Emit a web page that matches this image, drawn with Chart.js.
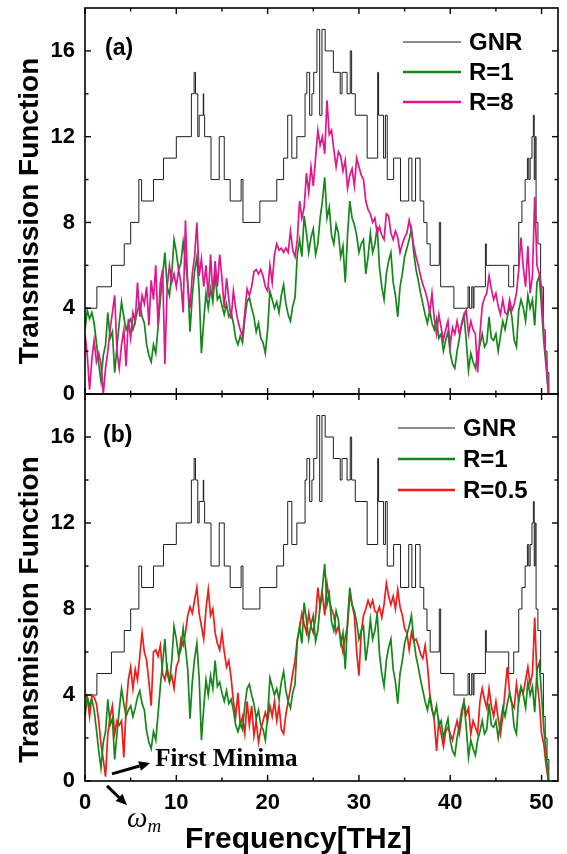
<!DOCTYPE html>
<html><head><meta charset="utf-8">
<script src="https://cdn.jsdelivr.net/npm/chart.js@4.4.1/dist/chart.umd.min.js"></script>
<style>
html,body{margin:0;padding:0;background:#fff;}
#wrap{position:relative;width:567px;height:854px;overflow:hidden;background:#fff;}
canvas{position:absolute;left:0;}
#ca{top:0;width:567px;height:404px;}
#cb{top:386px;width:567px;height:468px;}
</style></head><body>
<div id="wrap"><canvas id="ca" width="567" height="404"></canvas><canvas id="cb" width="567" height="468"></canvas></div>
<script>
// ---- data ----
const frequency = [
0,0.25,0.5,0.75,1,1.25,1.5,1.75,
2,2.25,2.5,2.75,3,3.25,3.5,3.75,
4,4.25,4.5,4.75,5,5.25,5.5,5.75,
6,6.25,6.5,6.75,7,7.25,7.5,7.75,
8,8.25,8.5,8.75,9,9.25,9.5,9.75,
10,10.25,10.5,10.75,11,11.25,11.5,11.75,
12,12.25,12.5,12.75,13,13.25,13.5,13.75,
14,14.25,14.5,14.75,15,15.25,15.5,15.75,
16,16.25,16.5,16.75,17,17.25,17.5,17.75,
18,18.25,18.5,18.75,19,19.25,19.5,19.75,
20,20.25,20.5,20.75,21,21.25,21.5,21.75,
22,22.25,22.5,22.75,23,23.25,23.5,23.75,
24,24.25,24.5,24.75,25,25.25,25.5,25.75,
26,26.25,26.5,26.75,27,27.25,27.5,27.75,
28,28.25,28.5,28.75,29,29.25,29.5,29.75,
30,30.25,30.5,30.75,31,31.25,31.5,31.75,
32,32.25,32.5,32.75,33,33.25,33.5,33.75,
34,34.25,34.5,34.75,35,35.25,35.5,35.75,
36,36.25,36.5,36.75,37,37.25,37.5,37.75,
38,38.25,38.5,38.75,39,39.25,39.5,39.75,
40,40.25,40.5,40.75,41,41.25,41.5,41.75,
42,42.25,42.5,42.75,43,43.25,43.5,43.75,
44,44.25,44.5,44.75,45,45.25,45.5,45.75,
46,46.25,46.5,46.75,47,47.25,47.5,47.75,
48,48.25,48.5,48.75,49,49.25,49.5,49.75,
50,50.25,50.5,50.75];

const transR1 = [
3.0,3.9,3.5,3.8,3.3,2.4,1.4,0.6,
1.8,2.3,3.8,2.6,2.9,1.0,2.2,3.3,
4.3,3.6,3.0,3.3,3.5,3.0,3.4,3.9,
4.2,3.6,3.3,2.3,1.8,1.5,2.3,1.9,
3.1,4.4,5.5,6.6,5.0,4.6,5.6,7.2,
6.6,5.8,6.1,7.1,6.2,5.2,2.9,4.6,
5.7,6.4,4.8,1.9,3.4,4.7,4.0,4.9,
4.3,5.6,4.4,4.6,4.1,3.7,4.2,3.6,
3.8,3.3,2.6,2.3,2.7,2.4,3.5,4.3,
4.5,4.0,3.6,2.9,3.3,2.6,2.4,1.9,
3.0,4.8,4.4,4.0,4.3,3.8,4.6,5.1,
4.2,3.7,3.4,4.1,4.5,6.5,7.2,6.4,
8.3,7.5,6.6,7.3,7.7,6.5,7.0,8.2,
9.0,10.1,8.2,8.7,7.4,7.0,7.9,7.5,
6.4,6.9,5.2,7.4,9.0,8.2,7.9,7.4,
6.6,7.0,7.2,5.6,6.4,7.5,6.6,7.0,
7.8,5.9,5.0,4.4,5.6,6.2,6.6,5.2,
4.6,3.6,5.0,5.6,6.4,6.8,7.2,7.7,
6.6,5.8,5.3,4.7,4.2,3.7,3.3,3.9,
3.3,3.0,3.5,2.6,2.8,2.0,2.5,2.9,
1.9,1.4,1.2,2.0,2.6,3.3,3.7,2.5,
1.1,1.9,1.5,1.2,1.9,2.3,2.8,2.2,
2.4,3.6,2.6,2.5,2.8,2.0,2.7,3.4,
3.0,3.6,4.1,3.6,2.5,2.2,3.9,4.4,
4.0,3.4,4.6,4.0,4.4,3.2,5.2,5.5,
4.0,2.4,1.3,0.0];

const transR8 = [
2.8,1.8,0.2,1.6,2.5,1.5,1.9,1.4,
0.0,1.2,2.0,3.0,3.8,4.6,2.0,1.2,
2.3,3.0,1.3,3.5,2.6,3.8,3.4,5.2,
3.6,4.6,4.2,5.0,3.2,5.3,4.4,6.0,
3.2,5.2,5.8,1.4,5.0,6.0,5.2,5.6,
5.0,5.8,5.2,3.8,8.1,5.0,4.0,5.6,
6.4,8.0,5.5,6.3,5.0,6.0,4.5,6.5,
4.6,6.2,5.0,6.5,5.4,4.0,5.4,4.4,
3.5,4.8,4.0,3.4,3.0,2.7,3.8,4.9,
4.6,5.0,5.7,5.8,5.6,5.8,5.5,5.0,
4.8,6.0,5.2,6.5,7.0,6.7,6.8,6.6,
6.8,6.6,7.6,6.7,6.4,7.2,9.0,8.2,
8.7,10.3,9.4,10.6,9.7,11.0,12.3,11.6,
12.0,11.2,13.7,12.1,12.3,11.4,10.6,11.3,
11.1,10.4,10.9,9.6,10.2,10.5,9.7,11.0,
10.6,10.2,10.0,9.0,8.6,8.4,8.0,8.2,
7.5,7.8,7.4,7.2,8.4,8.3,7.5,7.2,
7.6,7.3,6.6,7.0,7.3,7.5,8.1,7.6,
6.9,6.4,6.0,5.5,5.1,4.8,4.4,3.8,
4.7,3.5,2.8,3.7,3.1,2.5,3.0,3.4,
2.3,3.1,2.8,3.4,2.8,3.2,3.6,3.9,
2.8,3.4,3.0,2.8,1.0,2.8,4.1,4.5,
4.7,5.5,4.9,4.4,4.7,4.1,3.7,4.4,
3.8,3.7,4.4,3.9,4.2,4.7,5.8,7.3,
5.9,5.0,6.9,4.7,5.5,9.2,6.0,5.6,
5.0,2.8,1.6,0.0];

const transR05 = [
4.0,3.9,3.0,4.0,3.9,3.6,2.8,1.7,
1.0,0.2,2.2,3.0,3.5,2.2,2.8,2.6,
2.8,1.1,3.4,4.7,5.3,4.3,5.2,4.7,
5.8,6.9,6.0,5.6,4.6,3.5,6.0,6.1,
5.8,6.3,5.0,4.7,5.3,4.6,4.9,4.3,
5.3,5.6,6.6,6.3,6.9,7.7,8.1,7.8,
8.4,9.0,7.8,7.2,6.6,8.0,8.9,7.7,
8.0,6.9,6.4,6.1,6.9,6.0,5.3,5.6,
4.8,3.7,3.0,4.1,2.6,3.0,2.2,3.7,
2.6,3.5,2.1,2.8,1.8,2.4,2.8,3.2,
2.8,3.5,3.0,3.7,2.8,3.5,2.4,2.2,
3.1,3.7,4.3,5.0,5.6,6.6,7.1,7.8,
7.3,6.9,7.8,7.2,6.9,7.6,9.0,8.1,
8.7,7.7,9.2,8.4,8.0,7.7,6.9,7.2,
6.6,6.0,6.7,7.2,8.7,8.2,7.7,6.0,
4.9,6.9,7.7,8.0,8.4,8.1,8.4,7.9,
7.8,8.1,7.6,8.2,9.2,8.6,8.2,8.6,
8.0,8.9,8.1,7.7,7.1,6.9,6.1,6.9,
6.5,6.6,6.3,5.9,5.7,6.3,5.4,4.1,
3.4,2.8,1.4,2.8,2.2,1.6,2.3,2.5,
2.2,1.9,2.4,2.8,2.2,3.0,3.7,3.1,
3.4,2.2,2.8,2.5,2.2,3.7,4.3,3.8,
3.4,4.3,3.5,3.0,3.7,2.9,2.2,3.0,
4.2,5.3,4.1,3.6,3.4,4.5,3.7,4.3,
4.1,4.7,5.3,4.5,5.0,7.6,4.7,3.7,
2.2,1.7,0.7,0.0];

// pristine GNR: step starts (frequency) and integer transmission levels
const gnrFreq = [0,1.3,2.9,4.3,5.0,5.9,6.2,7.5,8.6,10.0,11.65,11.95,12.1,12.35,12.5,12.95,13.0,13.1,13.8,14.7,15.25,15.9,17.1,17.3,19.15,21.0,21.75,22.2,22.65,23.2,24.1,24.3,24.6,24.85,25.05,25.4,25.7,25.95,26.3,27.2,27.95,28.15,28.7,29.05,29.2,29.6,30.9,32.05,32.15,32.7,32.9,33.1,33.8,34.55,35.45,35.8,36.2,36.7,37.1,37.45,37.8,38.8,38.95,40.4,41.95,42.1,42.35,42.5,42.6,43.85,43.95,46.4,46.95,47.5,47.85,48.2,48.45,48.6,48.75,48.95,49.1,49.2,49.3,49.4,49.6,49.9,50.2,50.4,50.6,50.8];
const gnrTrans = [4,5,6,7,8,10,9,10,11,12,14,15,14,12,13,14,13,12,10,12,10,9,10,8,9,10,11,13,11,12,14,15,13,14,15,17,13,17,16,15,14,15,14,16,14,13,11,15,13,11,13,10,11,9,11,9,11,9,8,7,6,8,5,4,5,4,5,4,5,7,6,5,6,8,9,10,11,10,11,12,13,10,12,8,7,5,3,2,1,0];

const xTickValues = [0,10,20,30,40,50];
const xMinorValues = [5,15,25,35,45];
const yTickValues = [0,4,8,12,16];
const yMinorValues = [2,6,10,14];
const seriesLabels = {gnr:'GNR', r1:'R=1', r8:'R=8', r05:'R=0.5'};
const panelLabels = ['(a)','(b)'];
const axisTitles = {x:'Frequency[THz]', y:'Transmission Function'};
const minimaNote = {text:'First Minima', sym:'\u03C9', sub:'m'};

// ---- helpers ----
const SANS = '"Liberation Sans", Arial, sans-serif';
const SERIF = '"Liberation Serif", "Times New Roman", serif';
const COL = {gnr:'#1e1e1e', r1:'#14871a', r8:'#e0168c', r05:'#f41a1a'};
const pts = (xs, ys) => xs.map((v, i) => ({x: v, y: ys[i]}));

function arrow(ctx, x1, y1, x2, y2) {
  const ang = Math.atan2(y2 - y1, x2 - x1), L = 11, W = 5;
  const bx = x2 - L * Math.cos(ang), by = y2 - L * Math.sin(ang);
  ctx.beginPath(); ctx.moveTo(x1, y1); ctx.lineTo(bx, by); ctx.stroke();
  ctx.beginPath(); ctx.moveTo(x2, y2);
  ctx.lineTo(bx + W * Math.sin(ang), by - W * Math.cos(ang));
  ctx.lineTo(bx - W * Math.sin(ang), by + W * Math.cos(ang));
  ctx.closePath(); ctx.fill();
}

const decor = {
  id: 'decor',
  afterDraw(chart, args, o) {
    const {ctx, chartArea: a} = chart;
    const x = chart.scales.x, y = chart.scales.y;
    ctx.save();
    ctx.strokeStyle = '#000'; ctx.fillStyle = '#000';
    // frame
    ctx.lineWidth = 1.6;
    ctx.strokeRect(a.left, a.top, a.right - a.left, a.bottom - a.top);
    // inward ticks on all four sides
    ctx.lineWidth = 1.4;
    const seg = (x1, y1, x2, y2) => { ctx.beginPath(); ctx.moveTo(x1, y1); ctx.lineTo(x2, y2); ctx.stroke(); };
    const xt = (v, len) => { const p = x.getPixelForValue(v); seg(p, a.bottom, p, a.bottom - len); seg(p, a.top, p, a.top + len); };
    const yt = (v, len) => { const p = y.getPixelForValue(v); seg(a.left, p, a.left + len, p); seg(a.right, p, a.right - len, p); };
    xTickValues.forEach(v => xt(v, 6)); xMinorValues.forEach(v => xt(v, 3.5));
    yTickValues.forEach(v => yt(v, 6)); yMinorValues.forEach(v => yt(v, 3.5));
    // panel label
    ctx.font = 'bold 23px ' + SANS; ctx.textAlign = 'left'; ctx.textBaseline = 'alphabetic';
    ctx.fillText(o.panel.text, o.panel.x, o.panel.y);
    // legend
    o.legend.items.forEach((idx, k) => {
      const ds = chart.data.datasets[idx];
      const ly = o.legend.y + k * o.legend.dy;
      ctx.strokeStyle = ds.borderColor; ctx.lineWidth = idx === 0 ? 1.2 : 2.6;
      seg(o.legend.x0, ly, o.legend.x1, ly);
      ctx.fillStyle = '#000'; ctx.textBaseline = 'middle'; ctx.font = 'bold 24px ' + SANS;
      ctx.fillText(ds.label, o.legend.tx, ly + 1);
    });
    // y title
    ctx.save();
    ctx.translate(o.ytitle.x, o.ytitle.y); ctx.rotate(-Math.PI / 2);
    ctx.font = 'bold 28px ' + SANS; ctx.textAlign = 'center'; ctx.textBaseline = 'alphabetic';
    ctx.fillStyle = '#000';
    ctx.fillText(axisTitles.y, 0, 0);
    ctx.restore();
    // x title
    if (o.xtitle) {
      ctx.font = 'bold 30px ' + SANS; ctx.textAlign = 'left'; ctx.textBaseline = 'alphabetic'; ctx.fillStyle = '#000';
      ctx.fillText(axisTitles.x, o.xtitle.x, o.xtitle.y);
    }
    // annotation (data-anchored)
    if (o.note) {
      const n = o.note, P = (fx, fy) => [x.getPixelForValue(fx), y.getPixelForValue(fy)];
      ctx.strokeStyle = '#000'; ctx.fillStyle = '#000'; ctx.lineWidth = 3;
      const a1 = P(n.a1[0], n.a1[1]), a2 = P(n.a1[2], n.a1[3]);
      arrow(ctx, a1[0], a1[1], a2[0], a2[1]);
      const b1 = P(n.a2[0], n.a2[1]), b2 = P(n.a2[2], n.a2[3]);
      arrow(ctx, b1[0], b1[1], b2[0], b2[1]);
      const t = P(n.text[0], n.text[1]);
      ctx.font = 'bold 25px ' + SERIF; ctx.textAlign = 'left'; ctx.textBaseline = 'alphabetic';
      ctx.fillText(minimaNote.text, t[0], t[1]);
      const w = P(n.sym[0], n.sym[1]);
      ctx.font = 'italic 29px ' + SERIF;
      ctx.fillText(minimaNote.sym, w[0], w[1]);
      const ww = ctx.measureText(minimaNote.sym).width;
      ctx.font = 'italic 19px ' + SERIF;
      ctx.fillText(minimaNote.sub, w[0] + ww, w[1] + 5);
    }
    ctx.restore();
  }
};

function makeChart(id, datasets, opts) {
  const showX = !!opts.xtitle;
  return new Chart(document.getElementById(id), {
    type: 'line',
    data: {datasets},
    options: {
      responsive: false, animation: false, devicePixelRatio: 1, events: [],
      layout: {padding: {left: 0, right: 9, top: 8, bottom: 0}},
      elements: {point: {radius: 0}, line: {tension: 0}},
      plugins: {legend: {display: false}, tooltip: {enabled: false}, decor: opts},
      scales: {
        x: {
          type: 'linear', min: 0, max: 51.8,
          afterBuildTicks: s => { s.ticks = xTickValues.map(v => ({value: v})); },
          afterFit: s => { s.height = opts.xHeight; s.paddingLeft = 0; s.paddingRight = 0; },
          grid: {display: false, drawTicks: false}, border: {display: false},
          ticks: {display: showX, color: '#000', padding: 9, maxRotation: 0,
                  font: {family: SANS, size: 22, weight: 'bold'}}
        },
        y: {
          type: 'linear', min: 0, max: 18,
          afterBuildTicks: s => { s.ticks = yTickValues.map(v => ({value: v})); },
          afterFit: s => { s.width = 85; s.paddingTop = 0; s.paddingBottom = 0; },
          grid: {display: false, drawTicks: false}, border: {display: false},
          ticks: {color: '#000', padding: 10, font: {family: SANS, size: 22, weight: 'bold'}}
        }
      }
    },
    plugins: [decor]
  });
}

const gnrData = pts(gnrFreq, gnrTrans);
const dsGNR = () => ({label: seriesLabels.gnr, data: gnrData, borderColor: COL.gnr, borderWidth: 1, stepped: true, order: 3});

makeChart('ca', [
  dsGNR(),
  {label: seriesLabels.r1, data: pts(frequency, transR1), borderColor: COL.r1, borderWidth: 1.7, order: 2},
  {label: seriesLabels.r8, data: pts(frequency, transR8), borderColor: COL.r8, borderWidth: 1.7, order: 1}
], {
  xHeight: 10,
  panel: {text: panelLabels[0], x: 105, y: 55},
  legend: {items: [0, 1, 2], x0: 403, x1: 461, tx: 469, y: 42, dy: 30},
  ytitle: {x: 37.5, y: 211}
});

makeChart('cb', [
  dsGNR(),
  {label: seriesLabels.r1, data: pts(frequency, transR1), borderColor: COL.r1, borderWidth: 1.7, order: 1},
  {label: seriesLabels.r05, data: pts(frequency, transR05), borderColor: COL.r05, borderWidth: 1.7, order: 2}
], {
  xHeight: 73,
  panel: {text: panelLabels[1], x: 103, y: 56},
  legend: {items: [0, 1, 2], x0: 398, x1: 455, tx: 463, y: 42, dy: 31},
  ytitle: {x: 37.5, y: 223.5},
  xtitle: {x: 185, y: 462},
  note: {a1: [2.96, 0.33, 7.13, 0.84], a2: [2.41, -0.23, 4.6, -1.12], text: [7.68, 0.70], sym: [4.6, -2.14]}
});
</script></body></html>
